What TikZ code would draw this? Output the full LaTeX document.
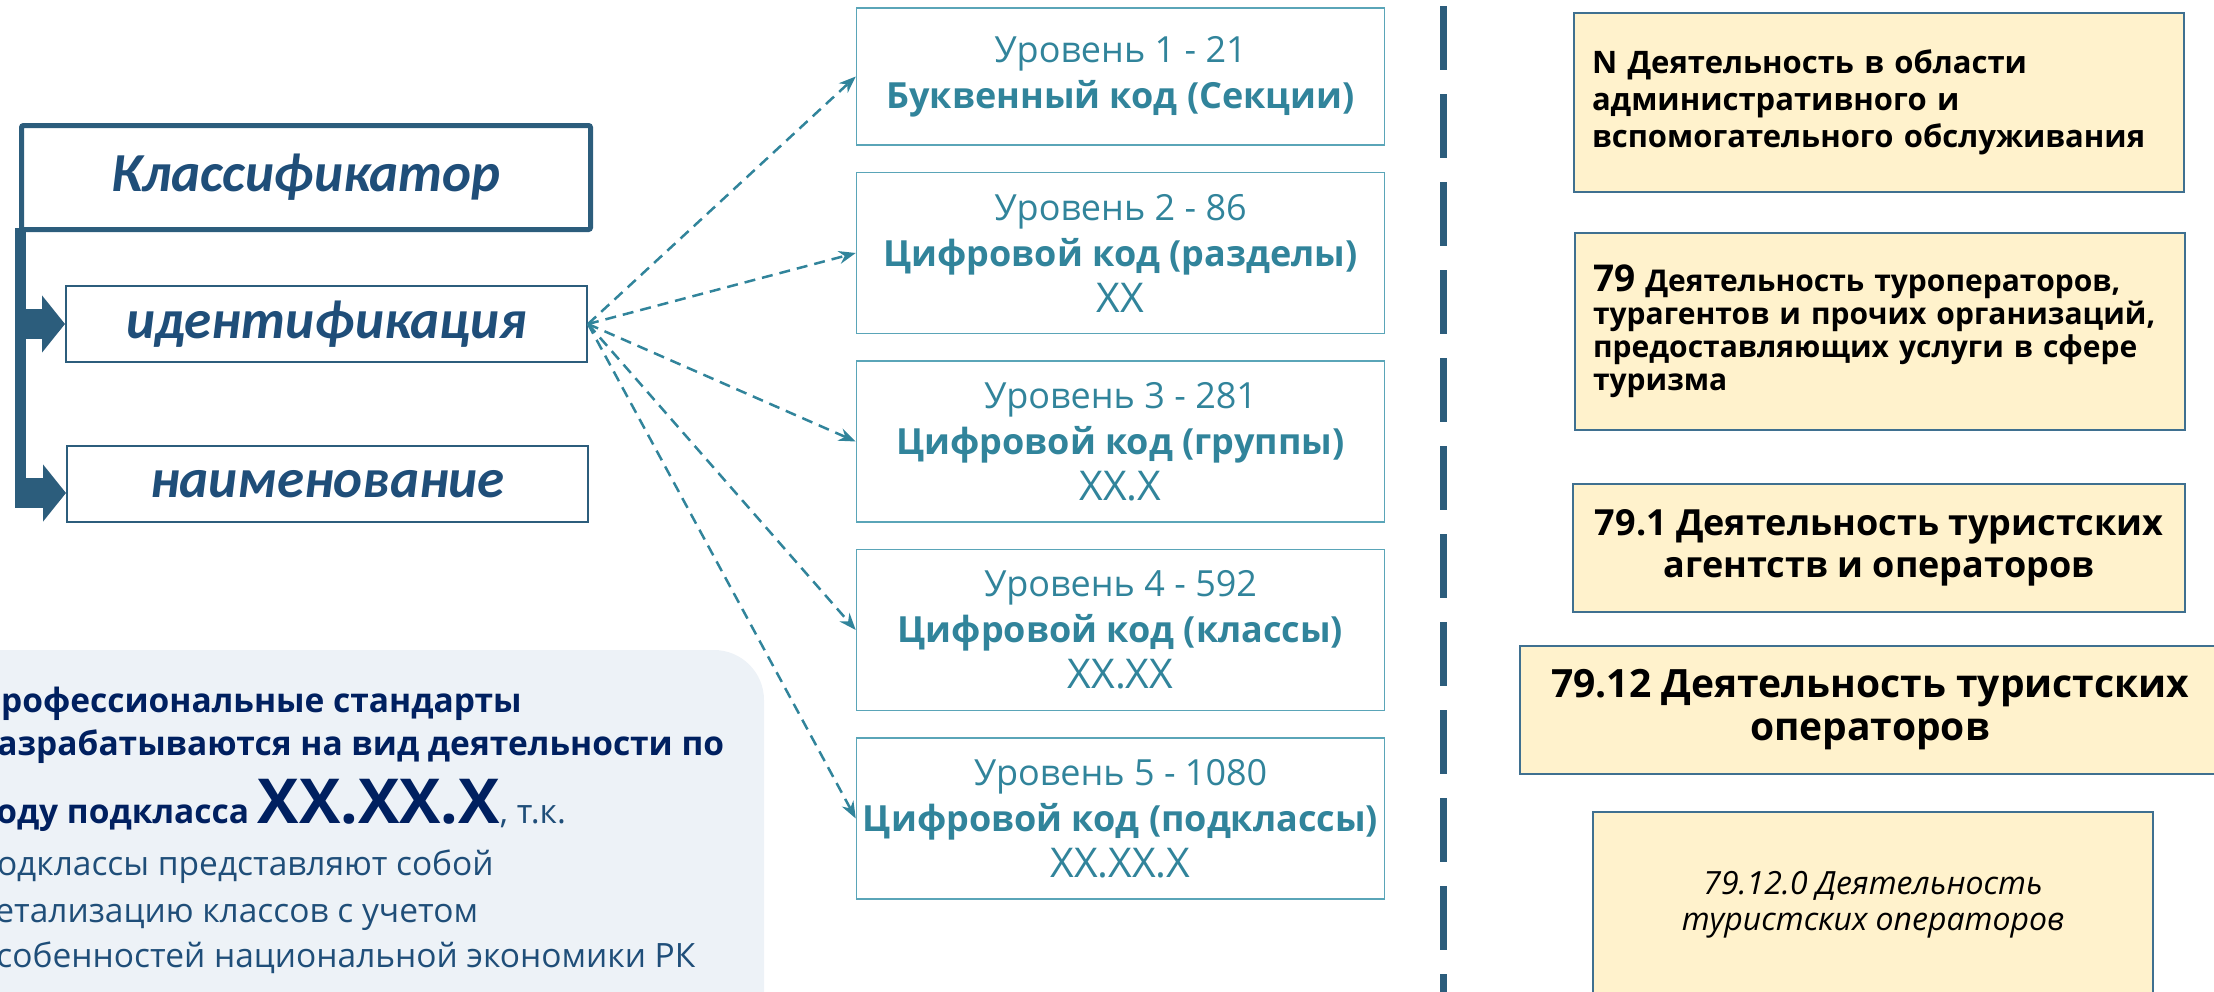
\documentclass[tikz,border=0pt]{standalone}
\usepackage{fontspec}
\setmainfont{Open Sans}
\newfontfamily\headfont{Carlito}
\usetikzlibrary{positioning,arrows.meta}

\definecolor{headblue}{HTML}{2C5D7C}
\definecolor{headtext}{HTML}{1F4E79}
\definecolor{levelline}{HTML}{5AA5B8}
\definecolor{levelteal}{HTML}{31849B}
\definecolor{linkteal}{HTML}{31849B}
\definecolor{codefill}{HTML}{FFF2CC}
\definecolor{codeline}{HTML}{3F7090}
\definecolor{panelfill}{HTML}{EDF2F7}
\definecolor{notenavy}{HTML}{002060}
\definecolor{noteslate}{HTML}{1F4E79}

\tikzstyle{classbox} = [
draw=headblue,
line width=5pt,
rounded corners=2pt,
text=headtext,
font=\headfont\bfseries\itshape\fontsize{55}{60}\selectfont
]
\tikzstyle{attrbox} = [
draw=headblue,
line width=2pt,
minimum width=521pt,
minimum height=76pt,
text=headtext,
font=\headfont\bfseries\itshape\fontsize{55}{60}\selectfont
]
\tikzstyle{level} = [
draw=levelline,
line width=1.5pt,
minimum width=528pt,
minimum height=161pt,
align=center,
text=levelteal,
font=\fontsize{36}{46}\selectfont
]
\tikzstyle{code} = [
draw=codeline,
fill=codefill,
line width=2pt,
text=black
]
\tikzstyle{note} = [
anchor=base west,
inner sep=0pt,
text=notenavy,
font=\bfseries\fontsize{33.5}{40}\selectfont
]
\tikzstyle{link} = [
draw=linkteal,
line width=2.5pt,
dash pattern=on 11pt off 7pt,
-{Stealth[length=17pt,width=13pt]}
]
\tikzstyle{trunk} = [draw=headblue, line width=11pt]
\tikzstyle{branch} = [draw=headblue, line width=30pt, -{Triangle[length=23pt,width=56pt]}]
\tikzstyle{divider} = [draw=headblue, line width=7pt, dash pattern=on 64pt off 24pt]

\newcommand{\codeline}[1]{{\fontsize{41}{46}\selectfont #1}}

\begin{document}
\begin{tikzpicture}[x=1pt, y=-1pt]
	\useasboundingbox (0,0) rectangle (2214,991);
	\clip (0,0) rectangle (2214,991);
	
	% note panel
	\fill[panelfill, rounded corners=50pt] (-200,650) rectangle (764,1100);
	\node[note] (note1) at (-24,712) {Профессиональные стандарты};
	\node[note] (note2) at (-24,755) {разрабатываются на вид деятельности по};
	\node[note] (note3) at (-24,823) {коду подкласса {\fontsize{62}{62}\selectfont XX.XX.X}{\mdseries\color{noteslate}, т.к.}};
	\node[note, text=noteslate, font=\fontsize{33.5}{40}\selectfont] (note4) at (-24,875) {подклассы представляют собой};
	\node[note, text=noteslate, font=\fontsize{33.5}{40}\selectfont] (note5) at (-24,922) {детализацию классов с учетом};
	\node[note, text=noteslate, font=\fontsize{33.5}{40}\selectfont] (note6) at (-24,967) {особенностей национальной экономики РК};
	
	% classifier
	\node[classbox, minimum width=569pt, minimum height=104pt] (klass) at (306,177.5) {Классификатор};
	\node[attrbox] (ident) at (326.5,324) {идентификация};
	\node[attrbox] (naim) at (327.5,484) {наименование};
	
	\coordinate (root) at ([xshift=1pt,yshift=4pt]klass.south west);
	\draw[trunk] (root) -- (root |- naim.west) -- ++(0,24);
	\draw[branch] (root |- ident.west) -- (ident.west);
	\draw[branch] ([yshift=-9pt]naim.west -| root) -- ([yshift=-9pt]naim.west);
	
	% levels
	\node[level, minimum height=137pt] (l1) at (1120.5,76.5) {Уровень 1 - 21\\ \textbf{Буквенный код (Секции)}};
	\node[level, below=26pt of l1] (l2) {Уровень 2 - 86\\ \textbf{Цифровой код (разделы)}\\ \codeline{XX}};
	\node[level, below=26pt of l2] (l3) {Уровень 3 - 281\\ \textbf{Цифровой код (группы)}\\ \codeline{XX.X}};
	\node[level, below=26pt of l3] (l4) {Уровень 4 - 592\\ \textbf{Цифровой код (классы)}\\ \codeline{XX.XX}};
	\node[level, below=26pt of l4] (l5) {Уровень 5 - 1080\\ \textbf{Цифровой код (подклассы)}\\ \codeline{XX.XX.X}};
	
	\draw[link] (ident.east) -- (l1.west);
	\draw[link] (ident.east) -- (l2.west);
	\draw[link] (ident.east) -- (l3.west);
	\draw[link] (ident.east) -- (l4.west);
	\draw[link] (ident.east) -- (l5.west);
	
	\draw[divider] (1443,6) -- (1443,1000);
	
	% example codes
	\node[code, minimum width=610pt, minimum height=179pt, text width=574pt, align=left, font=\bfseries\fontsize{31}{37}\selectfont] (sec) at (1879,102.5) {N Деятельность в области\\ административного и\\ вспомогательного обслуживания};
	\node[code, minimum width=610pt, minimum height=197pt, text width=574pt, align=left, font=\bfseries\fontsize{30}{33}\selectfont] (div) at (1880,331.5) {{\fontsize{37}{33}\selectfont 79} Деятельность туроператоров,\\ турагентов и прочих организаций,\\ предоставляющих услуги в сфере\\ туризма};
	\node[code, minimum width=612pt, minimum height=128pt, align=center, font=\bfseries\fontsize{36}{42}\selectfont] (grp) at (1879,548) {79.1 Деятельность туристских\\ агентств и операторов};
	\node[code, minimum width=700pt, minimum height=128pt, align=center, font=\bfseries\fontsize{39}{43}\selectfont] (cls) at (1870,710) {79.12 Деятельность туристских\\ операторов};
	\node[code, minimum width=560pt, minimum height=186pt, align=center, font=\itshape\fontsize{32}{36}\selectfont] (sub) at (1873,905) {79.12.0 Деятельность\\ туристских операторов};
\end{tikzpicture}
\end{document}
